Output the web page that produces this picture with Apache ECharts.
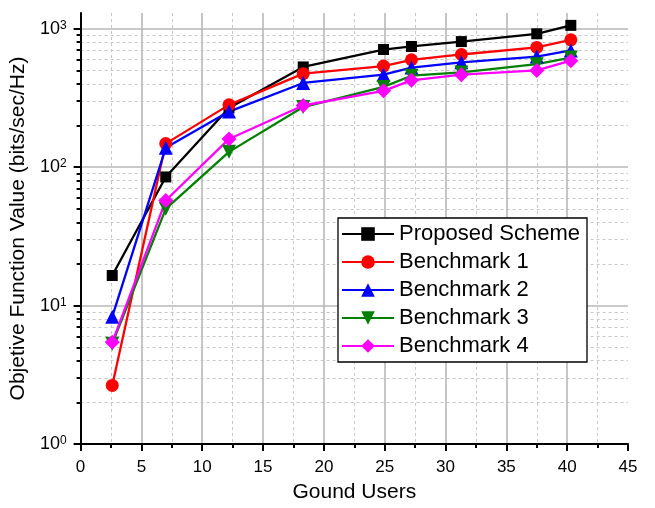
<!DOCTYPE html>
<html>
<head>
<meta charset="utf-8">
<script src="https://cdn.jsdelivr.net/npm/echarts@6/dist/echarts.min.js"></script>
<style>
  html, body { margin: 0; padding: 0; background: #fff; }
  #chart { width: 655px; height: 508px; }
</style>
</head>
<body>
<div id="chart"></div>
<script>
// Number of ground users at each evaluated point
const users = [2.6, 7, 12.2, 18.3, 24.9, 27.2, 31.3, 37.5, 40.3];

// Objective function value (bits/sec/Hz) for each scheme
const proposedScheme = [16.5, 85, 268, 530, 708, 745, 808, 920, 1058];
const benchmark1 = [2.65, 148, 282, 474, 538, 597, 652, 733, 832];
const benchmark2 = [8.3, 138, 252, 406, 466, 524, 572, 630, 698];
const benchmark3 = [5.3, 50, 129, 272, 380, 458, 484, 555, 620];
const benchmark4 = [5.43, 57.4, 160, 279, 356, 424, 466, 500, 588];

const seriesNames = ['Proposed Scheme', 'Benchmark 1', 'Benchmark 2', 'Benchmark 3', 'Benchmark 4'];

// Log-axis tick positions: decades (labelled) and the 2..9 subdivisions
const decadeTicks = [1, 10, 100, 1000];
const minorTicks = [2, 3, 4, 5, 6, 7, 8, 9, 20, 30, 40, 50, 60, 70, 80, 90,
                    200, 300, 400, 500, 600, 700, 800, 900];

const FONT = '"Liberation Sans", Arial, sans-serif';

function pairs(ys) {
  return users.map((x, i) => [x, ys[i]]);
}

function lineSeries(name, ys, color, symbol, size, rotate) {
  return {
    name: name,
    type: 'line',
    data: pairs(ys),
    symbol: symbol,
    symbolSize: size,
    symbolRotate: rotate || 0,
    showAllSymbol: true,
    lineStyle: { color: color, width: 2.3 },
    itemStyle: { color: color, borderWidth: 0 },
    emphasis: { disabled: true },
    animation: false
  };
}

const chart = echarts.init(document.getElementById('chart'), null, { renderer: 'canvas' });

chart.setOption({
  backgroundColor: '#fff',
  animation: false,
  grid: { left: 80, right: 27, top: 13, bottom: 61.3, containLabel: false },
  legend: {
    data: seriesNames,
    left: 338,
    top: 218,
    orient: 'vertical',
    padding: [5, 7, 5, 3],
    itemWidth: 52,
    itemHeight: 17,
    itemGap: 6,
    borderColor: '#000',
    borderWidth: 1.3,
    backgroundColor: '#fff',
    textStyle: { fontFamily: FONT, fontSize: 22, color: '#000' }
  },
  xAxis: {
    type: 'value',
    min: 0,
    max: 45,
    interval: 5,
    name: 'Gound Users',
    nameLocation: 'middle',
    nameGap: 38,
    nameTextStyle: { fontFamily: FONT, fontSize: 21, color: '#000' },
    axisLine: { show: true, onZero: false, lineStyle: { color: '#000', width: 2 } },
    axisTick: { show: true, length: 7, lineStyle: { color: '#000', width: 2 } },
    minorTick: { show: true, splitNumber: 2, length: 4, lineStyle: { color: '#000', width: 2 } },
    axisLabel: { fontFamily: FONT, fontSize: 17, color: '#000', margin: 15 },
    splitLine: { show: true, showMaxLine: false, lineStyle: { color: '#b8b8b8', width: 1.6 } },
    minorSplitLine: { show: true, lineStyle: { color: '#c8c8c8', width: 1, type: [3, 3] } }
  },
  yAxis: [
    {
      type: 'log',
      logBase: 10,
      min: 1,
      max: 1300,
      name: 'Objetive Function Value (bits/sec/Hz)',
      nameLocation: 'middle',
      nameGap: 44,
      nameTextStyle: { fontFamily: FONT, fontSize: 21, color: '#000' },
      axisLine: { show: true, lineStyle: { color: '#000', width: 2 } },
      axisTick: { show: true, length: 7, customValues: decadeTicks, lineStyle: { color: '#000', width: 2 } },
      axisLabel: {
        customValues: decadeTicks,
        margin: 14,
        formatter: function (v) {
          return '{b|10}{s|' + Math.round(Math.log10(v)) + '}';
        },
        rich: {
          b: { fontFamily: FONT, fontSize: 18, color: '#000' },
          s: { fontFamily: FONT, fontSize: 12, color: '#000', verticalAlign: 'top', padding: [0, 0, 6, 0] }
        }
      },
      splitLine: { show: true, lineStyle: { color: '#b8b8b8', width: 1.6 } }
    },
    {
      type: 'log',
      logBase: 10,
      min: 1,
      max: 1300,
      position: 'left',
      axisLine: { show: false },
      axisTick: { show: true, length: 4, customValues: minorTicks, lineStyle: { color: '#000', width: 2 } },
      axisLabel: { show: false },
      splitLine: { show: true, lineStyle: { color: '#c8c8c8', width: 1, type: [3, 3] } }
    }
  ],
  series: [
    lineSeries(seriesNames[0], proposedScheme, '#000000', 'rect', 11),
    lineSeries(seriesNames[1], benchmark1, '#ff0000', 'circle', 13),
    lineSeries(seriesNames[2], benchmark2, '#0000ff', 'triangle', 14),
    lineSeries(seriesNames[3], benchmark3, '#008000', 'triangle', 14, 180),
    lineSeries(seriesNames[4], benchmark4, '#ff00ff', 'diamond', 15)
  ]
});
</script>
</body>
</html>
